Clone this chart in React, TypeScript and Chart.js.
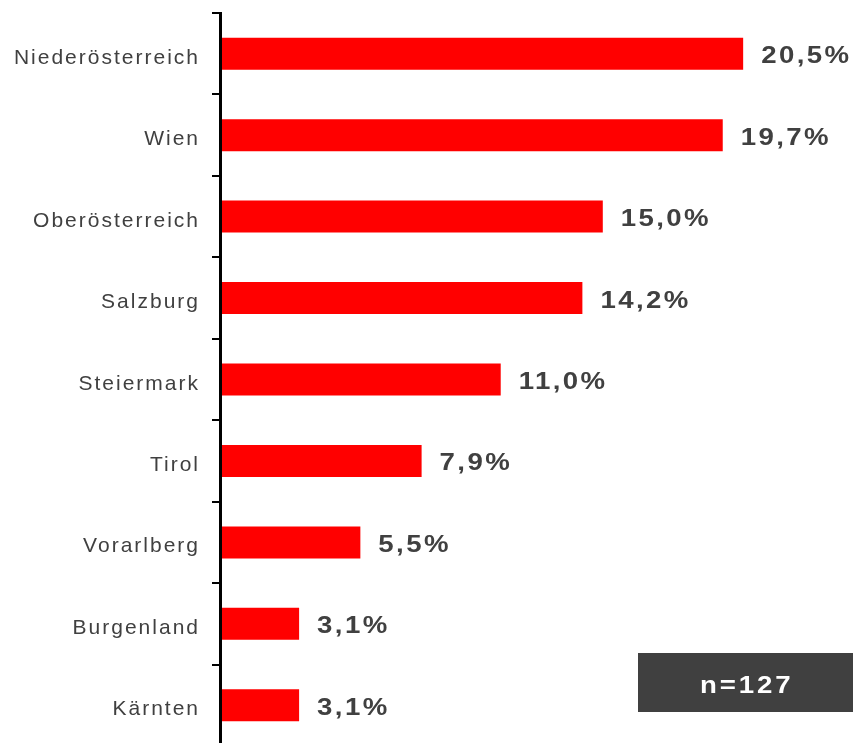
import React, { useEffect, useRef } from "react";
import { Chart, registerables } from "chart.js";

Chart.register(...registerables);

const categories: string[] = [
  "Niederösterreich",
  "Wien",
  "Oberösterreich",
  "Salzburg",
  "Steiermark",
  "Tirol",
  "Vorarlberg",
  "Burgenland",
  "Kärnten",
];
const values: number[] = [20.5, 19.7, 15.0, 14.2, 11.0, 7.9, 5.5, 3.1, 3.1];
const sampleNote = "n=127";

const FONT = '"Liberation Sans", Arial, sans-serif';
const TEXT_COLOR = "#404040";

function fmt(v: number): string {
  return v.toFixed(1).replace(".", ",") + "%";
}

const labelsPlugin = {
  id: "customLabels",
  afterDraw(chart: any) {
    const ctx: CanvasRenderingContext2D = chart.ctx;
    const yScale = chart.scales.y;
    const xScale = chart.scales.x;
    ctx.save();
    // category labels
    ctx.fillStyle = TEXT_COLOR;
    ctx.font = `21px ${FONT}`;
    ctx.textAlign = "right";
    ctx.textBaseline = "alphabetic";
    (ctx as any).letterSpacing = "2px";
    categories.forEach((c, i) => {
      const y = yScale.getPixelForValue(i);
      ctx.fillText(c, 200, y + 10);
    });
    // value labels
    values.forEach((v, i) => {
      const y = yScale.getPixelForValue(i);
      const x = xScale.getPixelForValue(v) + 18;
      ctx.save();
      ctx.translate(x, y + 9.5);
      ctx.scale(1.2, 1);
      ctx.font = `bold 23px ${FONT}`;
      ctx.textAlign = "left";
      (ctx as any).letterSpacing = "2px";
      ctx.fillStyle = TEXT_COLOR;
      ctx.fillText(fmt(v), 0, 0);
      ctx.restore();
    });
    // n box
    ctx.fillStyle = "#404040";
    ctx.fillRect(638, 653, 215, 59);
    ctx.save();
    ctx.translate(745.5, 693);
    ctx.scale(1.15, 1);
    ctx.font = `bold 24px ${FONT}`;
    ctx.textAlign = "center";
    (ctx as any).letterSpacing = "2.5px";
    ctx.fillStyle = "#ffffff";
    ctx.fillText(sampleNote, 1, 0);
    ctx.restore();
    ctx.restore();
  },
};

export default function App() {
  const ref = useRef<HTMLCanvasElement | null>(null);
  useEffect(() => {
    if (!ref.current) return;
    const chart = new Chart(ref.current, {
      type: "bar",
      data: {
        labels: categories,
        datasets: [
          {
            data: values,
            backgroundColor: "#ff0000",
            borderWidth: 0,
            categoryPercentage: 1,
            barPercentage: 0.393,
          },
        ],
      },
      options: {
        indexAxis: "y",
        responsive: false,
        animation: false,
        devicePixelRatio: 1,
        layout: { padding: { top: 13, right: 3, left: 0, bottom: 0 } },
        plugins: {
          legend: { display: false },
          tooltip: { enabled: false },
        },
        scales: {
          x: {
            display: false,
            min: 0,
            max: 25,
          },
          y: {
            type: "category",
            offset: true,
            grid: {
              drawOnChartArea: false,
              drawTicks: true,
              tickLength: 8,
              offset: true,
              color: "#000000",
              lineWidth: 2,
            },
            border: { display: true, color: "#000000", width: 3, z: 1 },
            ticks: { display: false },
            afterFit(scale: any) {
              scale.width = 220;
            },
          },
        },
      },
      plugins: [labelsPlugin],
    } as any);
    return () => chart.destroy();
  }, []);
  return (
    <div style={{ position: "fixed", left: 0, top: 0, width: 861, height: 746, background: "#fff" }}>
      <canvas ref={ref} width={861} height={746} style={{ display: "block", width: 861, height: 746 }} />
    </div>
  );
}
